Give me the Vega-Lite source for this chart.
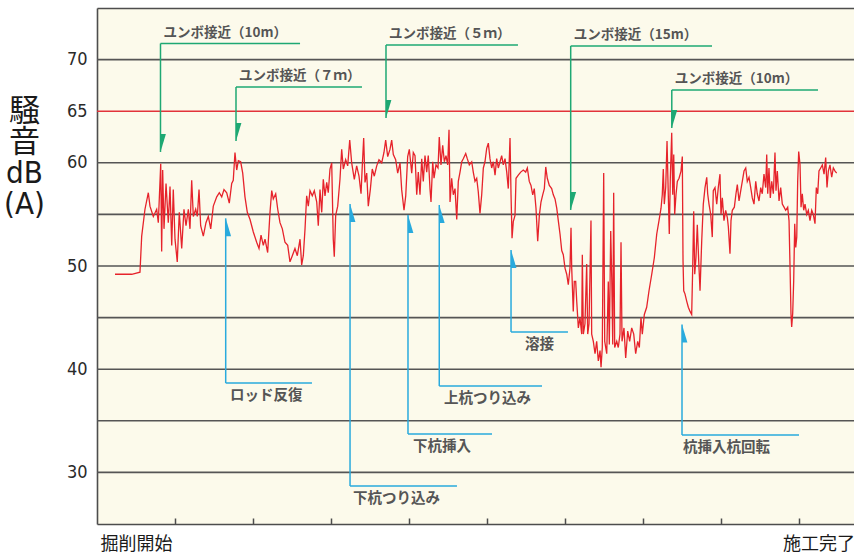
{
  "$schema": "https://vega.github.io/schema/vega-lite/v6.json",
  "width": 757,
  "height": 516,
  "autosize": "none",
  "padding": {"left": 97, "top": 8, "right": 0, "bottom": 33},
  "background": "#ffffff",
  "view": {"fill": "#fcfaeb", "stroke": null},
  "resolve": {"axis": {"x": "independent"}},
  "datasets": {
    "grid": [
      {"v": 30, "k": "grid"}, {"v": 35, "k": "grid"}, {"v": 40, "k": "grid"}, {"v": 45, "k": "grid"},
      {"v": 50, "k": "grid"}, {"v": 55, "k": "grid"}, {"v": 60, "k": "grid"}, {"v": 65, "k": "limit"}, {"v": 70, "k": "grid"}
    ],
    "trace": [
      {"t":2.31,"db":49.2},{"t":4.45,"db":49.2},{"t":5.51,"db":49.4},{"t":5.73,"db":52.9},{"t":6.15,"db":55.5},{"t":6.58,"db":57.1},{"t":6.79,"db":55.8},{"t":7.22,"db":54.8},{"t":7.65,"db":55.5},{"t":7.86,"db":54.2},{"t":8.17,"db":59.9},{"t":8.29,"db":51.4},{"t":8.42,"db":59.3},{"t":8.59,"db":53.6},{"t":8.85,"db":58.0},{"t":9.14,"db":54.2},{"t":9.36,"db":57.7},{"t":9.58,"db":52.0},{"t":9.78,"db":57.4},{"t":10.0,"db":52.6},{"t":10.29,"db":50.4},{"t":10.55,"db":55.2},{"t":10.86,"db":51.7},{"t":11.15,"db":55.5},{"t":11.41,"db":53.9},{"t":11.71,"db":55.5},{"t":11.92,"db":53.6},{"t":12.14,"db":58.3},{"t":12.35,"db":54.8},{"t":12.65,"db":55.5},{"t":12.86,"db":54.8},{"t":13.08,"db":57.4},{"t":13.29,"db":53.9},{"t":13.63,"db":52.9},{"t":13.97,"db":54.2},{"t":14.27,"db":54.8},{"t":14.58,"db":53.6},{"t":14.91,"db":55.8},{"t":15.35,"db":56.7},{"t":15.68,"db":57.1},{"t":15.99,"db":56.7},{"t":16.28,"db":57.4},{"t":16.63,"db":57.1},{"t":16.96,"db":56.1},{"t":17.27,"db":58.0},{"t":17.47,"db":58.3},{"t":17.69,"db":61.0},{"t":17.91,"db":59.3},{"t":18.12,"db":60.2},{"t":18.42,"db":60.1},{"t":18.68,"db":59.0},{"t":18.97,"db":56.7},{"t":19.27,"db":55.2},{"t":19.62,"db":54.5},{"t":20.04,"db":53.3},
      {"t":20.47,"db":52.3},{"t":20.77,"db":51.7},{"t":21.03,"db":53.0},{"t":21.32,"db":52.0},{"t":21.54,"db":52.6},{"t":21.88,"db":51.3},{"t":22.18,"db":55.2},{"t":22.40,"db":57.3},{"t":22.60,"db":56.5},{"t":22.91,"db":57.0},{"t":23.17,"db":55.5},{"t":23.46,"db":54.2},{"t":23.76,"db":53.6},{"t":24.10,"db":52.3},{"t":24.45,"db":52.0},{"t":24.74,"db":50.4},{"t":25.04,"db":51.0},{"t":25.38,"db":51.7},{"t":25.68,"db":51.0},{"t":26.03,"db":52.6},{"t":26.24,"db":50.1},{"t":26.45,"db":51.0},{"t":26.67,"db":53.6},{"t":26.88,"db":56.8},{"t":27.09,"db":55.8},{"t":27.31,"db":57.3},{"t":27.60,"db":56.8},{"t":27.86,"db":57.3},{"t":28.17,"db":56.2},{"t":28.37,"db":53.9},{"t":28.59,"db":57.4},{"t":28.81,"db":55.2},{"t":29.01,"db":58.4},{"t":29.23,"db":56.8},{"t":29.45,"db":58.1},{"t":29.65,"db":57.1},{"t":29.87,"db":59.4},{"t":30.09,"db":60.0},{"t":30.29,"db":52.6},{"t":30.42,"db":50.9},{"t":30.60,"db":54.9},{"t":30.86,"db":55.8},{"t":31.15,"db":58.4},{"t":31.37,"db":61.3},{"t":31.58,"db":59.4},{"t":31.88,"db":60.3},{"t":32.14,"db":59.7},{"t":32.40,"db":62.2},{"t":32.65,"db":60.0},{"t":32.99,"db":58.4},{"t":33.29,"db":59.7},{"t":33.59,"db":58.7},{"t":33.85,"db":57.0},{"t":34.01,"db":59.7},{"t":34.19,"db":62.4},{"t":34.36,"db":58.1},{"t":34.58,"db":59.0},{"t":34.78,"db":55.8},{"t":35.04,"db":57.4},{"t":35.29,"db":59.4},{"t":35.55,"db":58.7},{"t":35.86,"db":59.7},{"t":36.15,"db":60.3},{"t":36.50,"db":60.0},{"t":36.79,"db":61.0},{"t":37.01,"db":62.2},{"t":37.27,"db":60.6},{"t":37.56,"db":61.3},{"t":37.78,"db":62.2},{"t":37.99,"db":60.8},{"t":38.29,"db":60.3},{"t":38.55,"db":59.0},{"t":38.85,"db":60.0},{"t":39.06,"db":57.4},{"t":39.36,"db":55.4},{"t":39.58,"db":56.8},{"t":39.83,"db":60.6},{"t":40.04,"db":61.3},{"t":40.35,"db":59.0},{"t":40.55,"db":61.0},
      {"t":40.77,"db":60.7},{"t":40.99,"db":56.9},{"t":41.19,"db":59.1},{"t":41.41,"db":56.9},{"t":41.63,"db":60.4},{"t":41.83,"db":58.2},{"t":42.05,"db":60.7},{"t":42.27,"db":59.1},{"t":42.47,"db":60.7},{"t":42.69,"db":57.5},{"t":42.82,"db":56.2},{"t":43.04,"db":60.1},{"t":43.21,"db":58.5},{"t":43.46,"db":59.8},{"t":43.72,"db":59.5},{"t":43.88,"db":62.5},{"t":44.10,"db":59.8},{"t":44.32,"db":61.7},{"t":44.53,"db":60.1},{"t":44.74,"db":60.7},{"t":44.96,"db":59.8},{"t":45.13,"db":63.2},{"t":45.26,"db":56.2},{"t":45.47,"db":58.5},{"t":45.68,"db":56.9},{"t":45.90,"db":57.5},{"t":46.12,"db":54.5},{"t":46.32,"db":58.2},{"t":46.54,"db":59.1},{"t":46.76,"db":60.1},{"t":46.96,"db":60.4},{"t":47.27,"db":60.9},{"t":47.47,"db":60.4},{"t":47.73,"db":59.8},{"t":48.04,"db":60.1},{"t":48.24,"db":59.1},{"t":48.46,"db":58.2},{"t":48.68,"db":58.5},{"t":48.88,"db":57.2},{"t":49.10,"db":55.1},{"t":49.32,"db":56.9},{"t":49.53,"db":59.5},{"t":49.74,"db":60.1},{"t":49.96,"db":61.4},{"t":50.17,"db":61.9},{"t":50.38,"db":60.4},{"t":50.60,"db":59.5},{"t":50.81,"db":60.1},{"t":51.03,"db":58.8},{"t":51.24,"db":60.4},{"t":51.45,"db":59.5},{"t":51.67,"db":60.1},{"t":51.88,"db":60.7},{"t":52.09,"db":59.8},{"t":52.31,"db":60.4},{"t":52.53,"db":59.1},{"t":52.73,"db":57.5},{"t":52.95,"db":62.4},{"t":53.08,"db":56.9},{"t":53.21,"db":52.7},{"t":53.37,"db":54.3},{"t":53.59,"db":54.9},{"t":53.72,"db":58.5},{"t":54.01,"db":58.8},{"t":54.32,"db":59.1},{"t":54.65,"db":59.3},{"t":54.96,"db":59.1},{"t":55.17,"db":59.5},{"t":55.42,"db":58.2},{"t":55.64,"db":57.8},{"t":55.86,"db":56.9},{"t":56.06,"db":57.5},{"t":56.28,"db":55.6},{"t":56.50,"db":52.4},{"t":56.71,"db":54.9},{"t":56.92,"db":56.2},{"t":57.14,"db":56.9},{"t":57.35,"db":57.5},{"t":57.53,"db":59.6},{"t":57.73,"db":58.5},{"t":57.99,"db":57.8},{"t":58.29,"db":57.5},{"t":58.50,"db":56.9},
      {"t":58.72,"db":56.5},{"t":58.94,"db":55.6},{"t":59.14,"db":54.4},{"t":59.36,"db":53.1},{"t":59.58,"db":51.5},{"t":59.78,"db":51.1},{"t":60.0,"db":49.8},{"t":60.22,"db":49.2},{"t":60.42,"db":48.2},{"t":60.64,"db":49.8},{"t":60.77,"db":53.7},{"t":60.86,"db":49.8},{"t":61.06,"db":45.6},{"t":61.19,"db":48.5},{"t":61.37,"db":48.5},{"t":61.50,"db":46.6},{"t":61.71,"db":44.0},{"t":61.92,"db":45.0},{"t":62.14,"db":43.4},{"t":62.22,"db":51.1},{"t":62.35,"db":43.4},{"t":62.56,"db":44.4},{"t":62.78,"db":50.2},{"t":62.91,"db":43.4},{"t":63.08,"db":44.4},{"t":63.33,"db":54.4},{"t":63.42,"db":43.4},{"t":63.63,"db":42.7},{"t":63.85,"db":41.5},{"t":64.06,"db":42.7},{"t":64.27,"db":40.8},{"t":64.49,"db":41.8},{"t":64.62,"db":40.2},{"t":64.78,"db":42.1},{"t":64.96,"db":59.0},{"t":65.09,"db":42.7},{"t":65.35,"db":41.5},{"t":65.55,"db":48.5},{"t":65.68,"db":42.4},{"t":65.86,"db":53.4},{"t":65.99,"db":48.9},{"t":66.12,"db":42.4},{"t":66.24,"db":57.1},{"t":66.37,"db":42.1},{"t":66.63,"db":42.7},{"t":66.83,"db":42.1},{"t":67.05,"db":43.4},{"t":67.18,"db":52.3},{"t":67.31,"db":42.7},{"t":67.56,"db":44.0},{"t":67.78,"db":41.1},{"t":68.04,"db":43.7},{"t":68.29,"db":42.7},{"t":68.55,"db":44.0},{"t":68.81,"db":43.4},{"t":69.06,"db":41.5},{"t":69.32,"db":42.7},{"t":69.53,"db":42.1},{"t":69.74,"db":45.0},{"t":69.91,"db":43.4},{"t":70.17,"db":45.3},{"t":70.47,"db":46.0},{"t":70.77,"db":47.6},{"t":71.12,"db":49.2},{"t":71.45,"db":50.8},{"t":71.76,"db":53.1},{"t":72.05,"db":54.4},{"t":72.31,"db":55.6},{"t":72.47,"db":56.9},{"t":72.60,"db":59.4},{"t":72.73,"db":56.0},{"t":72.91,"db":57.6},{"t":73.08,"db":62.1},{"t":73.24,"db":56.9},{"t":73.37,"db":53.1},{"t":73.50,"db":58.5},{"t":73.68,"db":62.9},{"t":73.81,"db":56.9},{"t":73.94,"db":60.8},{"t":74.06,"db":55.0},{"t":74.23,"db":56.9},{"t":74.40,"db":58.2},{"t":74.62,"db":58.5},{"t":74.87,"db":59.2},{"t":75.04,"db":60.6},{"t":75.13,"db":50.5},{"t":75.22,"db":47.6},{"t":75.38,"db":47.3},{"t":75.60,"db":46.6},{"t":75.81,"db":46.0},{"t":76.03,"db":45.6},{"t":76.24,"db":45.3},{"t":76.37,"db":49.8},{"t":76.50,"db":55.3},{"t":76.63,"db":49.2},{"t":76.79,"db":50.8},{"t":76.96,"db":54.0},{"t":77.14,"db":50.5},{"t":77.31,"db":47.6},{"t":77.53,"db":52.5},{"t":77.73,"db":56.0},
      {"t":77.95,"db":57.6},{"t":78.17,"db":58.6},{"t":78.29,"db":57.0},{"t":78.46,"db":56.0},{"t":78.68,"db":55.0},{"t":78.88,"db":52.8},{"t":79.01,"db":57.3},{"t":79.23,"db":57.6},{"t":79.45,"db":56.0},{"t":79.65,"db":57.6},{"t":79.87,"db":58.9},{"t":80.0,"db":55.0},{"t":80.17,"db":56.6},{"t":80.38,"db":54.4},{"t":80.60,"db":55.4},{"t":80.81,"db":54.7},{"t":80.94,"db":53.8},{"t":81.15,"db":51.2},{"t":81.28,"db":54.4},{"t":81.45,"db":55.4},{"t":81.71,"db":55.7},{"t":81.92,"db":57.0},{"t":82.09,"db":57.9},{"t":82.31,"db":56.3},{"t":82.53,"db":57.3},{"t":82.73,"db":58.2},{"t":82.95,"db":59.2},{"t":83.17,"db":59.5},{"t":83.37,"db":58.2},{"t":83.59,"db":58.6},{"t":83.81,"db":57.6},{"t":84.01,"db":56.6},{"t":84.23,"db":56.0},{"t":84.45,"db":58.2},{"t":84.65,"db":57.0},{"t":84.87,"db":56.3},{"t":85.09,"db":57.6},{"t":85.29,"db":57.0},{"t":85.51,"db":58.9},{"t":85.73,"db":57.6},{"t":85.86,"db":60.8},{"t":85.99,"db":57.0},{"t":86.15,"db":59.5},{"t":86.32,"db":56.6},{"t":86.50,"db":58.2},{"t":86.71,"db":57.0},{"t":86.92,"db":61.0},{"t":87.05,"db":57.3},{"t":87.22,"db":59.2},{"t":87.44,"db":56.3},{"t":87.65,"db":57.6},{"t":87.86,"db":56.0},{"t":88.08,"db":55.7},{"t":88.29,"db":55.4},{"t":88.55,"db":55.7},{"t":88.72,"db":54.4},{"t":88.85,"db":49.9},{"t":88.97,"db":45.4},{"t":89.06,"db":44.1},{"t":89.19,"db":45.4},{"t":89.32,"db":48.6},{"t":89.45,"db":54.1},{"t":89.58,"db":51.8},{"t":89.71,"db":52.8},{"t":89.83,"db":58.2},{"t":89.96,"db":61.1},{"t":90.13,"db":59.8},{"t":90.26,"db":55.7},{"t":90.42,"db":57.0},{"t":90.60,"db":55.4},{"t":90.77,"db":56.0},{"t":90.99,"db":55.0},{"t":91.19,"db":55.4},{"t":91.41,"db":54.4},{"t":91.63,"db":55.4},{"t":91.83,"db":55.0},{"t":92.05,"db":54.1},{"t":92.22,"db":57.6},{"t":92.40,"db":57.0},{"t":92.56,"db":59.2},{"t":92.78,"db":59.5},{"t":92.99,"db":59.8},{"t":93.21,"db":58.9},{"t":93.42,"db":60.5},{"t":93.59,"db":57.6},{"t":93.76,"db":59.2},{"t":93.97,"db":59.8},{"t":94.19,"db":58.6},{"t":94.40,"db":59.5},{"t":94.62,"db":59.2},{"t":94.83,"db":59.0}
    ],
    "green": [
      {"label": "ユンボ接近（10m）", "x": 8.14, "x2": 26.03, "line": 71.56, "tip": 61.05},
      {"label": "ユンボ接近（７ｍ）", "x": 17.82, "x2": 33.97, "line": 67.34, "tip": 62.11},
      {"label": "ユンボ接近（５ｍ）", "x": 37.05, "x2": 53.97, "line": 71.41, "tip": 64.34},
      {"label": "ユンボ接近（15m）", "x": 60.73, "x2": 78.85, "line": 71.32, "tip": 55.43},
      {"label": "ユンボ接近（10m）", "x": 73.69, "x2": 92.44, "line": 67.05, "tip": 63.37}
    ],
    "blue": [
      {"label": "ロッド反復", "x": 16.5, "x2": 27.56, "lx": 17.05, "line": 38.66, "tip": 54.62},
      {"label": "下杭つり込み", "x": 32.44, "x2": 46.15, "lx": 32.82, "line": 28.68, "tip": 56.01},
      {"label": "下杭挿入", "x": 39.87, "x2": 50.64, "lx": 40.51, "line": 33.72, "tip": 54.94},
      {"label": "上杭つり込み", "x": 43.88, "x2": 57.05, "lx": 44.49, "line": 38.37, "tip": 55.91},
      {"label": "溶接", "x": 53.08, "x2": 60.38, "lx": 54.87, "line": 43.6, "tip": 51.55},
      {"label": "杭挿入杭回転", "x": 75.0, "x2": 90.0, "lx": 75.13, "line": 33.62, "tip": 44.33}
    ],
    "ends": [
      {"t": 0.45, "label": "掘削開始", "y": 22.45},
      {"t": 87.95, "label": "施工完了", "y": 22.45}
    ]
  },
  "layer": [
    {
      "data": {"name": "grid"},
      "mark": {"type": "rule", "strokeWidth": 1.6},
      "encoding": {
        "y": {
          "field": "v", "type": "quantitative",
          "scale": {"domain": [25, 75], "nice": false, "zero": false},
          "axis": {
            "orient": "left",
            "values": [30, 40, 50, 60, 65, 70],
            "grid": false, "ticks": false,
            "domain": true, "domainColor": "#4d4d4d", "domainWidth": 1.6,
            "labelFont": "Liberation Sans Narrow, DejaVu Sans Condensed, sans-serif",
            "labelFontSize": 18, "labelColor": "#2a2a2a", "labelPadding": 10,
            "title": ["騒", "音", "dB", "(A)"],
            "titleFont": "Liberation Sans Narrow, DejaVu Sans Condensed, Noto Sans CJK JP, sans-serif",
            "titleFontSize": 31, "titleFontWeight": "normal", "titleColor": "#1a1a1a",
            "titleAngle": 0, "titleAlign": "center", "titleBaseline": "alphabetic",
            "titleLineHeight": 31, "titleX": -73, "titleY": 112
          }
        },
        "color": {
          "field": "k", "type": "nominal",
          "scale": {"domain": ["grid", "limit"], "range": ["#555555", "#e2333a"]},
          "legend": null
        }
      }
    },
    {
      "data": {"name": "trace"},
      "mark": {"type": "line", "color": "#e6232b", "strokeWidth": 1.3, "interpolate": "linear"},
      "encoding": {
        "x": {
          "field": "t", "type": "quantitative",
          "scale": {"domain": [0, 97.05], "nice": false, "zero": false},
          "axis": {
            "orient": "bottom",
            "values": [10, 20, 30, 40, 50, 60, 70, 80, 90],
            "labels": false, "grid": false, "title": null,
            "ticks": true, "tickSize": -6, "tickColor": "#4d4d4d", "tickWidth": 1.5,
            "domain": true, "domainColor": "#4d4d4d", "domainWidth": 1.6
          }
        },
        "y": {"field": "db", "type": "quantitative", "scale": {"domain": [25, 75], "nice": false, "zero": false}}
      }
    },
    {
      "data": {"name": "green"},
      "mark": {"type": "rule", "color": "#1ea873", "strokeWidth": 1.5},
      "encoding": {
        "x": {"field": "x", "type": "quantitative", "scale": {"domain": [0, 97.05], "nice": false, "zero": false}, "axis": null},
        "x2": {"field": "x2"},
        "y": {"field": "line", "type": "quantitative", "scale": {"domain": [25, 75], "nice": false, "zero": false}}
      }
    },
    {
      "data": {"name": "green"},
      "mark": {"type": "rule", "color": "#1ea873", "strokeWidth": 1.5},
      "encoding": {
        "x": {"field": "x", "type": "quantitative", "scale": {"domain": [0, 97.05], "nice": false, "zero": false}, "axis": null},
        "y": {"field": "line", "type": "quantitative", "scale": {"domain": [25, 75], "nice": false, "zero": false}},
        "y2": {"field": "tip"}
      }
    },
    {
      "data": {"name": "green"},
      "mark": {"type": "point", "shape": "M0,0L0,-2L0.6,-2Z", "size": 324, "filled": true, "color": "#1ea873", "opacity": 1, "strokeWidth": 0},
      "encoding": {
        "x": {"field": "x", "type": "quantitative", "scale": {"domain": [0, 97.05], "nice": false, "zero": false}, "axis": null},
        "y": {"field": "tip", "type": "quantitative", "scale": {"domain": [25, 75], "nice": false, "zero": false}}
      }
    },
    {
      "data": {"name": "green"},
      "mark": {"type": "text", "align": "left", "baseline": "alphabetic", "dx": 3, "dy": -7, "font": "Noto Sans CJK JP", "fontSize": 13.5, "fontWeight": "bold", "color": "#555555"},
      "encoding": {
        "x": {"field": "x", "type": "quantitative", "scale": {"domain": [0, 97.05], "nice": false, "zero": false}, "axis": null},
        "y": {"field": "line", "type": "quantitative", "scale": {"domain": [25, 75], "nice": false, "zero": false}},
        "text": {"field": "label"}
      }
    },
    {
      "data": {"name": "blue"},
      "mark": {"type": "rule", "color": "#29aadd", "strokeWidth": 1.5},
      "encoding": {
        "x": {"field": "x", "type": "quantitative", "scale": {"domain": [0, 97.05], "nice": false, "zero": false}, "axis": null},
        "x2": {"field": "x2"},
        "y": {"field": "line", "type": "quantitative", "scale": {"domain": [25, 75], "nice": false, "zero": false}}
      }
    },
    {
      "data": {"name": "blue"},
      "mark": {"type": "rule", "color": "#29aadd", "strokeWidth": 1.5},
      "encoding": {
        "x": {"field": "x", "type": "quantitative", "scale": {"domain": [0, 97.05], "nice": false, "zero": false}, "axis": null},
        "y": {"field": "line", "type": "quantitative", "scale": {"domain": [25, 75], "nice": false, "zero": false}},
        "y2": {"field": "tip"}
      }
    },
    {
      "data": {"name": "blue"},
      "mark": {"type": "point", "shape": "M0,0L0,2L0.6,2Z", "size": 324, "filled": true, "color": "#29aadd", "opacity": 1, "strokeWidth": 0},
      "encoding": {
        "x": {"field": "x", "type": "quantitative", "scale": {"domain": [0, 97.05], "nice": false, "zero": false}, "axis": null},
        "y": {"field": "tip", "type": "quantitative", "scale": {"domain": [25, 75], "nice": false, "zero": false}}
      }
    },
    {
      "data": {"name": "blue"},
      "mark": {"type": "text", "align": "left", "baseline": "alphabetic", "dy": 17, "font": "Noto Sans CJK JP", "fontSize": 14.5, "fontWeight": "bold", "color": "#555555"},
      "encoding": {
        "x": {"field": "lx", "type": "quantitative", "scale": {"domain": [0, 97.05], "nice": false, "zero": false}, "axis": null},
        "y": {"field": "line", "type": "quantitative", "scale": {"domain": [25, 75], "nice": false, "zero": false}},
        "text": {"field": "label"}
      }
    },
    {
      "data": {"name": "ends"},
      "mark": {"type": "text", "align": "left", "baseline": "alphabetic", "font": "Noto Sans CJK JP", "fontSize": 18, "color": "#1a1a1a"},
      "encoding": {
        "x": {
          "field": "t", "type": "quantitative",
          "scale": {"domain": [0, 97.05], "nice": false, "zero": false},
          "axis": {"orient": "top", "labels": false, "ticks": false, "grid": false, "title": null, "domain": true, "domainColor": "#4d4d4d", "domainWidth": 1.6}
        },
        "y": {"field": "y", "type": "quantitative", "scale": {"domain": [25, 75], "nice": false, "zero": false}},
        "text": {"field": "label"}
      }
    }
  ]
}
